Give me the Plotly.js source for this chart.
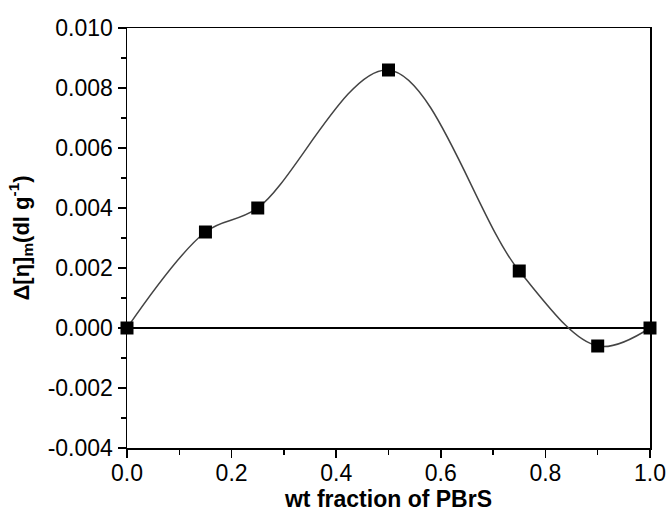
<!DOCTYPE html>
<html>
<head>
<meta charset="utf-8">
<script src="https://cdn.plot.ly/plotly-3.0.1.min.js"></script>
<style>html,body{margin:0;padding:0;background:#fff;}#chart{width:669px;height:512px;}</style>
</head>
<body>
<div id="chart"></div>
<script>
const wtFraction = [0.0, 0.15, 0.25, 0.5, 0.75, 0.9, 1.0];
const deltaEta = [0.0, 0.0032, 0.0040, 0.0086, 0.0019, -0.0006, 0.0];
const xTickVals = [0.0, 0.2, 0.4, 0.6, 0.8, 1.0];
const xTickText = ["0.0", "0.2", "0.4", "0.6", "0.8", "1.0"];
const yTickVals = [-0.004, -0.002, 0.0, 0.002, 0.004, 0.006, 0.008, 0.010];
const yTickText = ["-0.004", "-0.002", "0.000", "0.002", "0.004", "0.006", "0.008", "0.010"];

const font = "Liberation Sans, Arial, Helvetica, sans-serif";

const traces = [{
  x: wtFraction, y: deltaEta,
  type: "scatter", mode: "lines+markers",
  line: {shape: "spline", smoothing: 1, color: "#444", width: 1.5},
  marker: {symbol: "square", size: 13, color: "#000"},
  cliponaxis: false,
  showlegend: false
}];

const axisCommon = {
  showline: true, linecolor: "#000", linewidth: 1.5, mirror: true,
  ticks: "outside", ticklen: 8, tickwidth: 1.5, tickcolor: "#000",
  showgrid: false, tickmode: "array",
  tickfont: {family: font, size: 23, color: "#000"}
};

const layout = {
  width: 669, height: 512,
  margin: {l: 127, r: 19, t: 28, b: 64},
  paper_bgcolor: "#fff", plot_bgcolor: "#fff",
  xaxis: Object.assign({}, axisCommon, {
    range: [0, 1], tickvals: xTickVals, ticktext: xTickText,
    zeroline: false, ticklabelstandoff: -4,
    minor: {tickmode: "linear", tick0: 0, dtick: 0.1, ticks: "outside", ticklen: 5, tickwidth: 1.5, tickcolor: "#000", showgrid: false},
    title: {text: "<b>wt fraction of PBrS</b>", font: {family: font, size: 23, color: "#000"}, standoff: 13}
  }),
  yaxis: Object.assign({}, axisCommon, {
    range: [-0.004, 0.010], tickvals: yTickVals, ticktext: yTickText,
    zeroline: true, zerolinecolor: "#000", zerolinewidth: 1.5,
    minor: {tickmode: "linear", tick0: 0, dtick: 0.001, ticks: "outside", ticklen: 5, tickwidth: 1.5, tickcolor: "#000", showgrid: false},
    title: {text: "<b>Δ[η]<sub>m</sub>(dl g<sup>-1</sup>)</b>", font: {family: font, size: 22, color: "#000"}, standoff: 12}
  })
};

Plotly.newPlot("chart", traces, layout, {staticPlot: true, displayModeBar: false});
</script>
</body>
</html>
